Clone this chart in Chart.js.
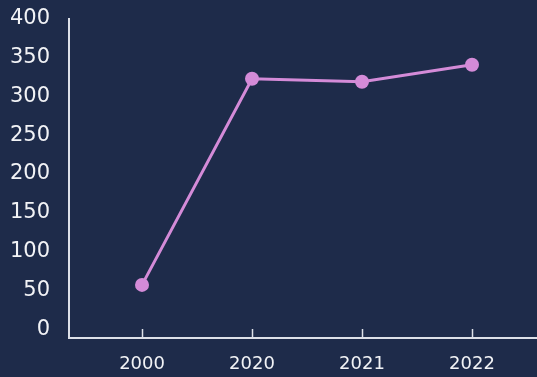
<!DOCTYPE html>
<html>
<head>
<meta charset="utf-8">
<script src="https://cdn.jsdelivr.net/npm/chart.js@4/dist/chart.umd.min.js"></script>
<style>
  html, body { margin: 0; padding: 0; background: #1e2b4a; }
  #wrap { width: 537px; height: 377px; position: relative; }
</style>
</head>
<body>
<div id="wrap"><canvas id="c" width="537" height="377"></canvas></div>
<script>
// Years and the measured values for each
const years = ['2000', '2020', '2021', '2022'];
const values = [57, 323, 319, 341];
const yTicks = [0, 50, 100, 150, 200, 250, 300, 350, 400];

const lineColor = '#d48bd8';
const axisColor = '#dde0e8';
const textColor = '#f2f3f6';

// short upward tick marks on the x axis line
const xTickMarks = {
  id: 'xTickMarks',
  afterDraw(chart) {
    const x = chart.scales.x;
    const ctx = chart.ctx;
    const bottom = chart.chartArea.bottom;
    ctx.save();
    ctx.strokeStyle = axisColor;
    ctx.lineWidth = 1.5;
    years.forEach((_, i) => {
      const px = Math.round(x.getPixelForValue(i)) + 0.5;
      ctx.beginPath();
      ctx.moveTo(px, bottom - 9);
      ctx.lineTo(px, bottom);
      ctx.stroke();
    });
    ctx.restore();
  }
};

new Chart(document.getElementById('c'), {
  type: 'line',
  data: {
    datasets: [{
      data: values.map((v, i) => ({ x: i, y: v })),
      borderColor: lineColor,
      backgroundColor: lineColor,
      borderWidth: 3,
      pointRadius: 7,
      pointHoverRadius: 7,
      pointBackgroundColor: lineColor,
      pointBorderWidth: 0,
      tension: 0,
      clip: false
    }]
  },
  options: {
    responsive: false,
    animation: false,
    layout: { autoPadding: false, padding: { top: 19, right: 0, left: 0, bottom: 0 } },
    plugins: { legend: { display: false }, tooltip: { enabled: false } },
    scales: {
      x: {
        type: 'linear',
        min: -0.664,
        max: 3.591,
        afterBuildTicks(scale) { scale.ticks = years.map((_, i) => ({ value: i })); },
        afterFit(scale) {
          scale.height = 39;
          scale.paddingLeft = 0;
          scale.paddingRight = 0;
        },
        grid: { display: false, drawTicks: false },
        border: { display: true, color: axisColor, width: 2 },
        ticks: {
          color: textColor,
          padding: 16,
          maxRotation: 0,
          font: { family: 'DejaVu Sans', size: 18 },
          callback: (v) => years[v]
        }
      },
      y: {
        min: -11.5,
        max: 400,
        afterBuildTicks(scale) { scale.ticks = yTicks.map(v => ({ value: v })); },
        afterFit(scale) {
          scale.width = 69;
          scale.paddingTop = 0;
          scale.paddingBottom = 0;
        },
        grid: { display: false, drawTicks: false },
        border: { display: true, color: axisColor, width: 2 },
        ticks: {
          color: textColor,
          padding: 19,
          font: { family: 'DejaVu Sans', size: 21 }
        }
      }
    }
  },
  plugins: [xTickMarks]
});
</script>
</body>
</html>
